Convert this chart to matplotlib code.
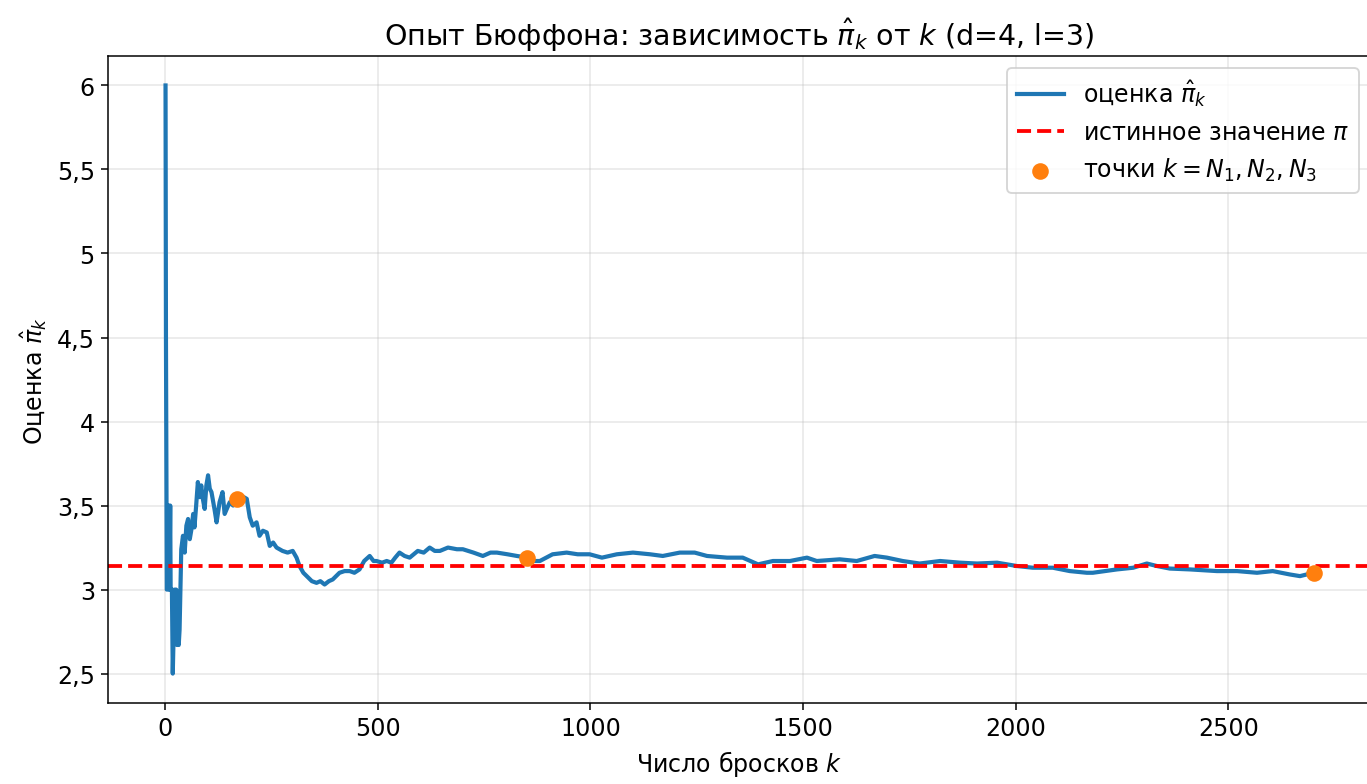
import numpy as np
import matplotlib
matplotlib.use('Agg')
import matplotlib.pyplot as plt
from matplotlib.ticker import FuncFormatter

# Опыт Бюффона: d = 4, l = 3
d, l = 4, 3

# номер броска k и оценка pi_k
k = [1, 2, 4, 6, 8, 10, 12, 13, 16, 18,
     20, 22, 24, 26, 28, 30, 32, 34, 38, 42,
     46, 50, 54, 58, 62, 66, 69, 73, 77, 81,
     85, 88, 93, 97, 101, 105, 109, 116, 121, 128,
     135, 140, 145, 152, 160, 168, 176, 185, 192, 199,
     206, 215, 222, 230, 239, 246, 254, 262, 276, 288,
     300, 309, 316, 325, 333, 345, 356, 365, 375, 385,
     394, 410, 422, 434, 445, 457, 468, 481, 490, 497,
     510, 521, 532, 541, 551, 563, 575, 594, 608, 622,
     634, 646, 665, 686, 700, 725, 747, 765, 780, 805,
     827, 852, 866, 881, 911, 944, 970, 998, 1027, 1062,
     1100, 1140, 1170, 1210, 1245, 1274, 1321, 1358, 1394, 1429,
     1469, 1509, 1532, 1586, 1626, 1668, 1697, 1734, 1774, 1822,
     1869, 1909, 1956, 2003, 2040, 2087, 2127, 2167, 2181, 2238,
     2276, 2308, 2332, 2362, 2409, 2473, 2520, 2567, 2604, 2644,
     2668, 2700]
pi_hat = [6.00, 4.50, 3.00, 3.00, 3.50, 3.00, 3.50, 3.00, 3.00, 2.50,
          2.73, 3.00, 2.75, 3.00, 2.67, 2.90, 2.67, 2.76, 3.24, 3.32,
          3.22, 3.38, 3.42, 3.30, 3.36, 3.45, 3.37, 3.50, 3.64, 3.55,
          3.62, 3.55, 3.48, 3.62, 3.68, 3.60, 3.58, 3.48, 3.40, 3.52,
          3.58, 3.45, 3.48, 3.52, 3.50, 3.54, 3.53, 3.55, 3.54, 3.43,
          3.38, 3.40, 3.32, 3.35, 3.34, 3.26, 3.28, 3.25, 3.23, 3.22,
          3.23, 3.19, 3.14, 3.10, 3.08, 3.05, 3.04, 3.05, 3.03, 3.05,
          3.06, 3.10, 3.11, 3.11, 3.10, 3.12, 3.17, 3.20, 3.17, 3.17,
          3.16, 3.17, 3.16, 3.19, 3.22, 3.20, 3.19, 3.23, 3.22, 3.25,
          3.23, 3.23, 3.25, 3.24, 3.24, 3.22, 3.20, 3.22, 3.22, 3.21,
          3.20, 3.19, 3.17, 3.17, 3.21, 3.22, 3.21, 3.21, 3.19, 3.21,
          3.22, 3.21, 3.20, 3.22, 3.22, 3.20, 3.19, 3.19, 3.15, 3.17,
          3.17, 3.19, 3.17, 3.18, 3.17, 3.20, 3.19, 3.17, 3.155, 3.17,
          3.16, 3.155, 3.16, 3.14, 3.13, 3.13, 3.11, 3.10, 3.10, 3.12,
          3.13, 3.155, 3.14, 3.125, 3.12, 3.11, 3.11, 3.10, 3.11, 3.09,
          3.08, 3.10]

# контрольные точки N1, N2, N3
N = [170, 850, 2700]
pi_N = np.interp(N, k, pi_hat)

plt.rcParams['font.size'] = 12.5

fig = plt.figure(figsize=(10, 5.742), dpi=136.7)
ax = fig.add_axes([0.0791, 0.1032, 0.9238, 0.8242])

ax.plot(k, pi_hat, color='tab:blue', lw=2.2, label=r'оценка $\hat{\pi}_k$')
ax.axhline(np.pi, color='red', linestyle='--', lw=2,
           label=r'истинное значение $\pi$')
ax.scatter(N, pi_N, s=60, color='tab:orange', zorder=3,
           label=r'точки $k=N_1,N_2,N_3$')

ax.set_title(r'Опыт Бюффона: зависимость $\hat{\pi}_k$ от $k$ (d=%d, l=%d)' % (d, l))
ax.set_xlabel(r'Число бросков $k$')
ax.set_ylabel(r'Оценка $\hat{\pi}_k$')
ax.yaxis.set_major_formatter(FuncFormatter(lambda v, p: ('%g' % v).replace('.', ',')))
ax.grid(True, alpha=0.3)
ax.legend(loc='upper right')

fig.savefig('out.png', dpi=136.7)
